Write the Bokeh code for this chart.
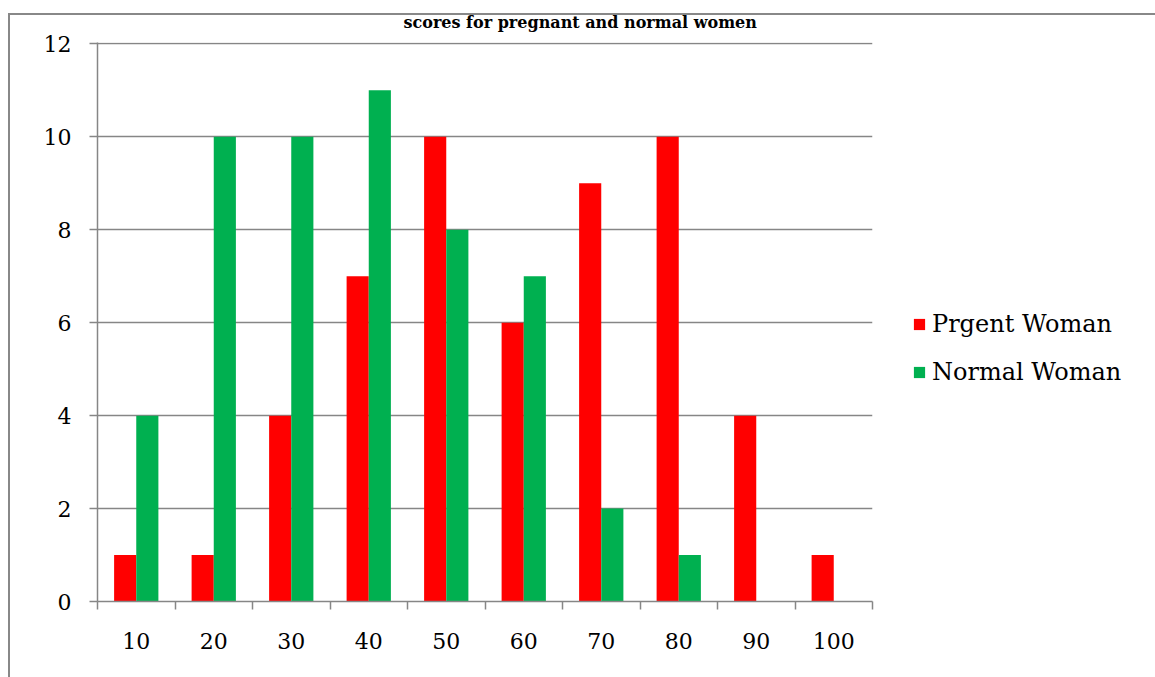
from bokeh.plotting import figure
from bokeh.models import FixedTicker, Legend, LegendItem, Title, ColumnDataSource
from bokeh.embed import file_html
from bokeh.resources import INLINE

categories = ["10", "20", "30", "40", "50", "60", "70", "80", "90", "100"]
pregnant = [1, 1, 4, 7, 10, 6, 9, 10, 4, 1]
normal = [4, 10, 10, 11, 8, 7, 2, 1, 0, 0]
y_ticks = [0, 2, 4, 6, 8, 10, 12]
title_text = "scores for pregnant and normal women"
series_names = ["Prgent Woman", "Normal Woman"]

FONT = "DejaVu Serif"
GRAY = "#868686"

pos = list(range(1, len(categories) + 1))
bw = 1 / 3.5
src = ColumnDataSource(dict(
    xp=[x - bw / 2 for x in pos],
    xn=[x + bw / 2 for x in pos],
    p=pregnant, n=normal))

p = figure(frame_width=775, frame_height=559, output_backend="svg", toolbar_location=None,
           x_range=(0.5, len(categories) + 0.5), y_range=(0, 12.03),
           min_border_left=97, min_border_right=0, min_border_top=42, min_border_bottom=76)
p.outline_line_color = None
p.background_fill_color = "white"
p.border_fill_alpha = 0
p.styles = {
    "background": ("linear-gradient(#888888,#888888) 8px 13px / 2px 800px no-repeat, "
                   "linear-gradient(#888888,#888888) 8px 13px / 1400px 2px no-repeat, white")
}

r1 = p.vbar(x="xp", top="p", width=bw, source=src, color="#FF0000", line_color=None)
r2 = p.vbar(x="xn", top="n", width=bw, source=src, color="#00B050", line_color=None)

p.xaxis.ticker = FixedTicker(ticks=pos, minor_ticks=[x - 0.5 for x in pos] + [len(pos) + 0.5])
p.xaxis.major_label_overrides = {x: c for x, c in zip(pos, categories)}
p.xaxis.major_tick_out = 0
p.xaxis.major_tick_in = 0
p.xaxis.minor_tick_out = 8
p.xaxis.minor_tick_in = 0
p.xaxis.minor_tick_line_color = GRAY
p.xaxis.minor_tick_line_width = 1.5
p.xaxis.major_label_standoff = 23
p.xgrid.visible = False

p.yaxis.ticker = FixedTicker(ticks=y_ticks)
p.yaxis.major_tick_out = 8
p.yaxis.major_tick_in = 0
p.yaxis.minor_tick_line_color = None
p.yaxis.major_label_standoff = 18
p.ygrid.grid_line_color = GRAY
p.ygrid.grid_line_width = 1.5

for ax in (p.xaxis[0], p.yaxis[0]):
    ax.axis_line_color = GRAY
    ax.axis_line_width = 1.5
    ax.major_tick_line_color = GRAY
    ax.major_tick_line_width = 1.5
    ax.major_label_text_font = FONT
    ax.major_label_text_font_size = "22px"
    ax.major_label_text_color = "black"

legend = Legend(items=[LegendItem(label=series_names[0], renderers=[r1]),
                       LegendItem(label=series_names[1], renderers=[r2])],
                location="center_left", orientation="vertical",
                title=" ", title_text_font_size="12px", title_standoff=38,
                glyph_width=14, glyph_height=14, label_height=26, label_standoff=6,
                spacing=20, padding=0, margin=40,
                label_text_font=FONT, label_text_font_size="24px", label_text_color="black",
                border_line_color=None, background_fill_alpha=0)
p.add_layout(legend, "right")

p.title = Title(text=title_text, align="left", offset=306, standoff=21,
                text_font=FONT, text_font_style="bold", text_font_size="16px",
                text_color="black")

open("out.html", "w").write(file_html(p, INLINE))
